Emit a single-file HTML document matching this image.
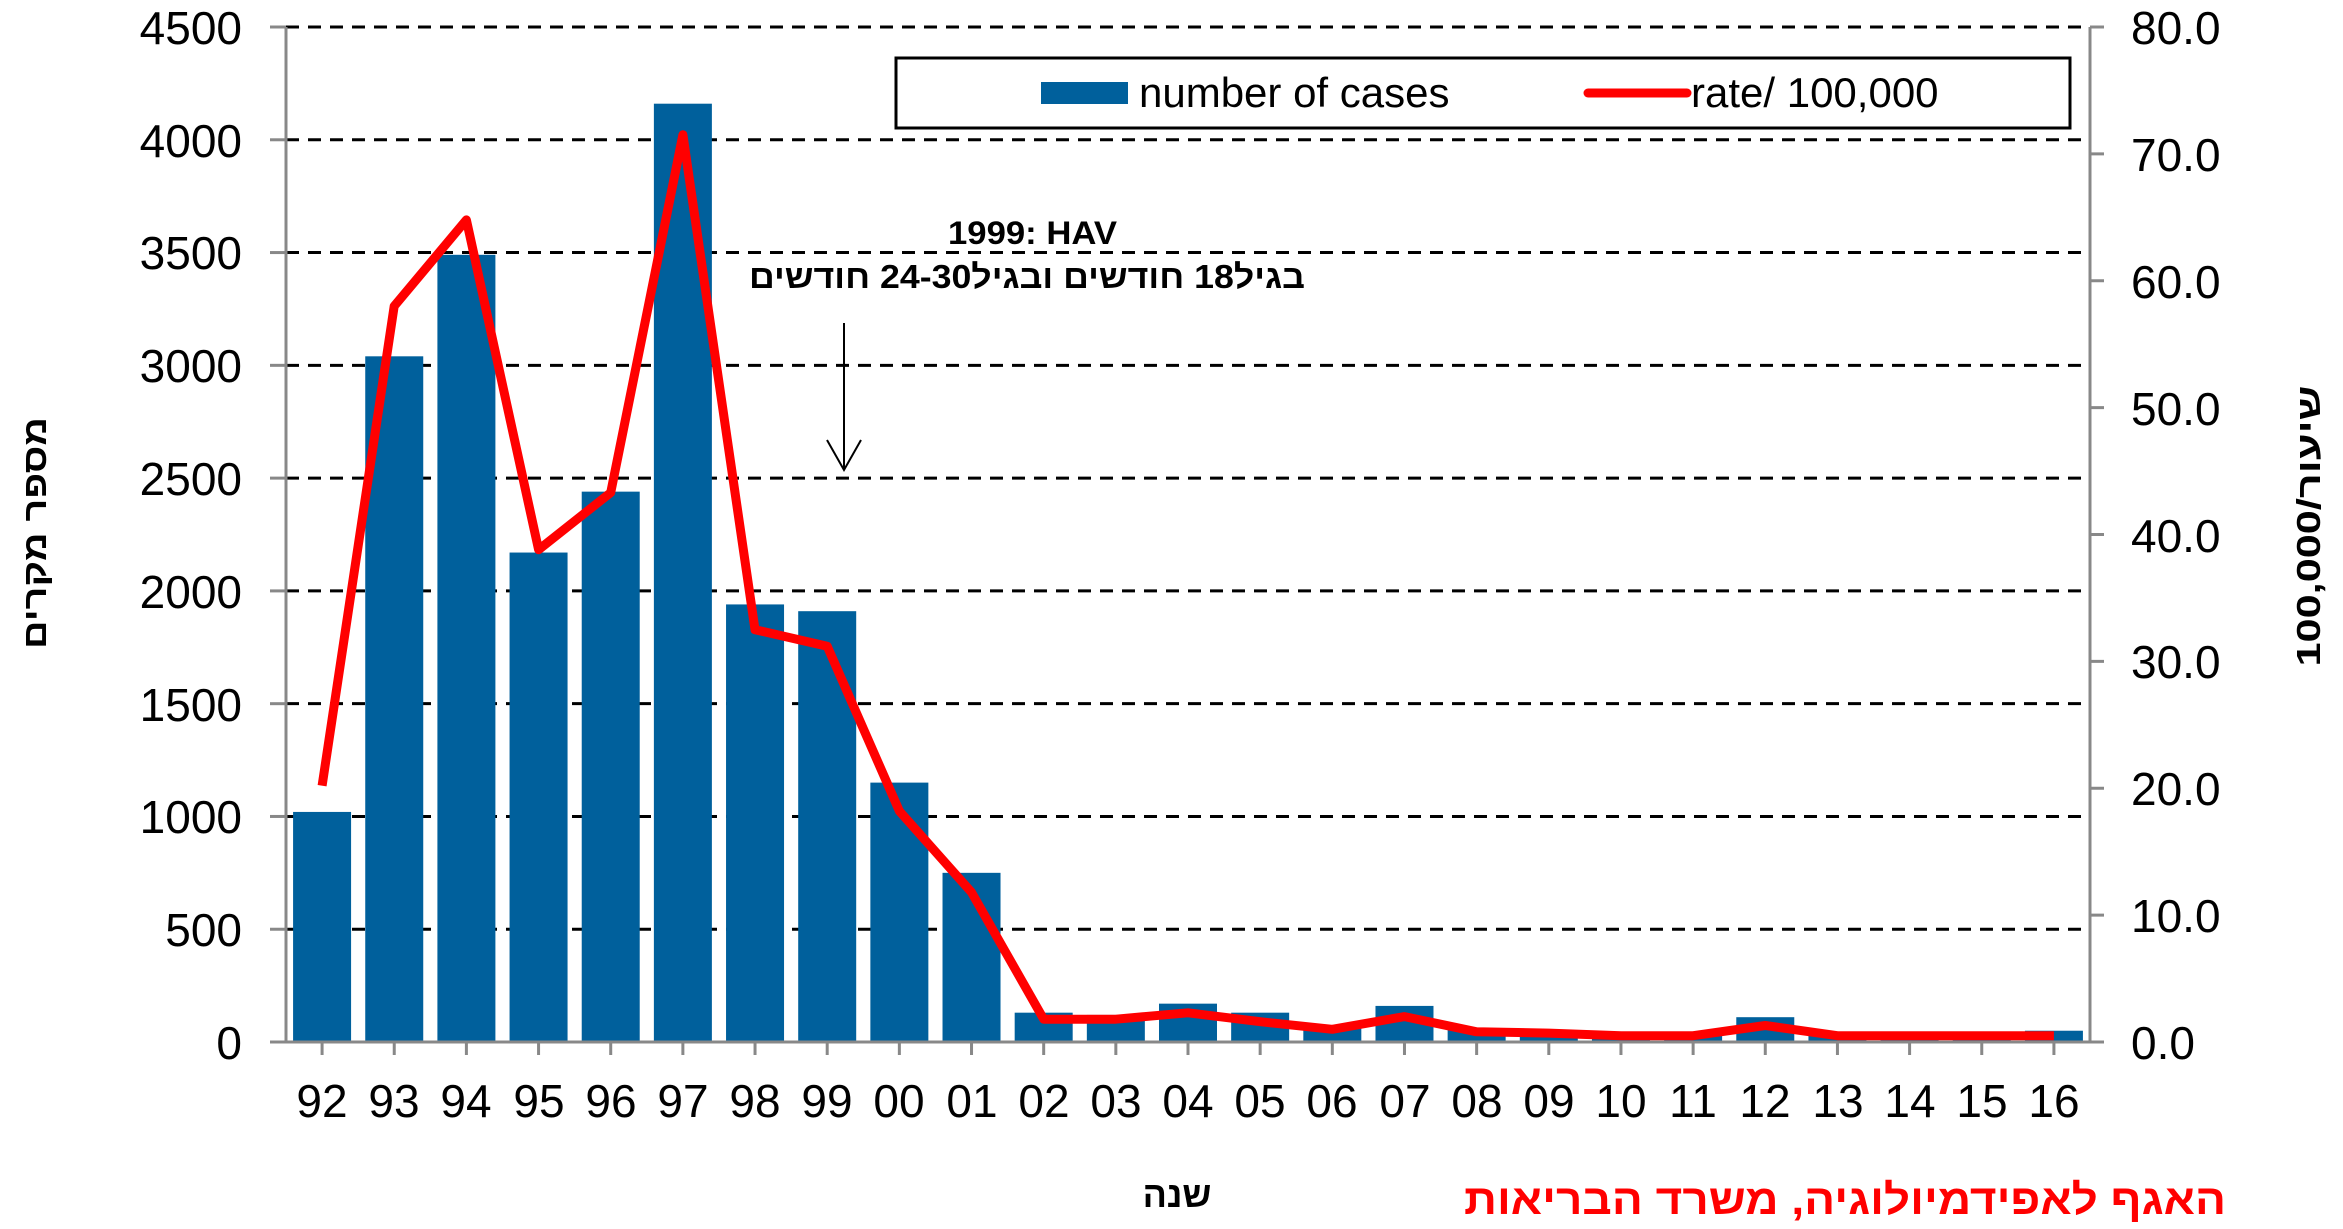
<!DOCTYPE html>
<html><head><meta charset="utf-8"><style>
html,body{margin:0;padding:0;background:#fff;}
svg{display:block;}
text{font-family:"Liberation Sans",Arial,sans-serif;}
.h{font-family:"Liberation Sans","Noto Sans CJK SC",sans-serif;font-weight:bold;}
</style></head><body>
<svg id="s" width="2343" height="1229" viewBox="0 0 2343 1229" xmlns="http://www.w3.org/2000/svg">
<g id="grid" stroke="#000" stroke-width="3" stroke-dasharray="13,9"></g>
<g id="bars" fill="#00609c"></g>
<g stroke="#888" stroke-width="3" fill="none" id="axes">
<line x1="286" y1="27" x2="286" y2="1042"/>
<line x1="2090" y1="27" x2="2090" y2="1042"/>
<line x1="270" y1="1042" x2="2104" y2="1042"/>
</g>
<polyline id="rate" fill="none" stroke="#ff0000" stroke-width="9" stroke-linejoin="round"/>
<g font-size="46" fill="#000" text-anchor="end">
<text x="242" y="44">4500</text><text x="242" y="157">4000</text><text x="242" y="269">3500</text>
<text x="242" y="382">3000</text><text x="242" y="495">2500</text><text x="242" y="608">2000</text>
<text x="242" y="721">1500</text><text x="242" y="833">1000</text><text x="242" y="946">500</text>
<text x="242" y="1059">0</text>
</g>
<g font-size="46" fill="#000" text-anchor="start">
<text x="2131" y="44">80.0</text><text x="2131" y="171">70.0</text><text x="2131" y="298">60.0</text>
<text x="2131" y="425">50.0</text><text x="2131" y="552">40.0</text><text x="2131" y="678">30.0</text>
<text x="2131" y="805">20.0</text><text x="2131" y="932">10.0</text><text x="2131" y="1059">0.0</text>
</g>
<g font-size="46" fill="#000" text-anchor="middle">
<text x="322" y="1117">92</text><text x="394" y="1117">93</text><text x="466" y="1117">94</text>
<text x="539" y="1117">95</text><text x="611" y="1117">96</text><text x="683" y="1117">97</text>
<text x="755" y="1117">98</text><text x="827" y="1117">99</text><text x="899" y="1117">00</text>
<text x="972" y="1117">01</text><text x="1044" y="1117">02</text><text x="1116" y="1117">03</text>
<text x="1188" y="1117">04</text><text x="1260" y="1117">05</text><text x="1332" y="1117">06</text>
<text x="1405" y="1117">07</text><text x="1477" y="1117">08</text><text x="1549" y="1117">09</text>
<text x="1621" y="1117">10</text><text x="1693" y="1117">11</text><text x="1765" y="1117">12</text>
<text x="1838" y="1117">13</text><text x="1910" y="1117">14</text><text x="1982" y="1117">15</text>
<text x="2054" y="1117">16</text>
</g>
<rect x="896" y="58" width="1174" height="70" fill="#fff" stroke="#000" stroke-width="3"/>
<rect x="1041" y="82" width="87" height="22" fill="#00609c"/>
<text x="1139" y="107" font-size="42">number of cases</text>
<line x1="1588" y1="93" x2="1687" y2="93" stroke="#ff0000" stroke-width="9" stroke-linecap="round"/>
<text x="1691" y="107" font-size="42">rate/ 100,000</text>
<text x="948" y="244" font-size="32" font-weight="bold" textLength="169" lengthAdjust="spacingAndGlyphs">1999: HAV</text>
<text class="h" x="1305" y="288" font-size="33" direction="rtl" text-anchor="start" textLength="556" lengthAdjust="spacingAndGlyphs">בגיל18 חודשים ובגיל24-30 חודשים</text>
<line x1="844" y1="323" x2="844" y2="470" stroke="#000" stroke-width="2"/>
<polyline points="827,440 844,470 861,440" fill="none" stroke="#000" stroke-width="2"/>
<text class="h" transform="translate(46,533) rotate(-90)" font-size="33" text-anchor="middle" textLength="232" lengthAdjust="spacingAndGlyphs">מספר מקרים</text>
<text class="h" transform="translate(2320,526) rotate(-90)" font-size="33" text-anchor="middle" textLength="281" lengthAdjust="spacingAndGlyphs">שיעור/100,000</text>
<text class="h" x="1177" y="1207" font-size="36" text-anchor="middle">שנה</text>
<text class="h" x="2226" y="1214" font-size="42" fill="#ff0000" direction="rtl" text-anchor="start" textLength="762" lengthAdjust="spacingAndGlyphs">האגף לאפידמיולוגיה, משרד הבריאות</text>
</svg>
<script>
(function(){
var ns="http://www.w3.org/2000/svg";
var cases=[1020,3040,3490,2170,2440,4160,1940,1910,1150,750,130,120,170,130,70,160,60,50,30,30,110,30,30,30,50];
var rates=[20.2,58,64.8,38.8,43.3,71.5,32.5,31.2,18.2,11.8,1.8,1.8,2.3,1.6,1.0,2.0,0.8,0.7,0.5,0.5,1.3,0.5,0.5,0.5,0.5];
var g=document.getElementById('grid'),b=document.getElementById('bars'),ax=document.getElementById('axes');
for(var k=0;k<9;k++){var y=27+k*112.78;var l=document.createElementNS(ns,'line');
l.setAttribute('x1',286);l.setAttribute('x2',2090);l.setAttribute('y1',y);l.setAttribute('y2',y);g.appendChild(l);
var t=document.createElementNS(ns,'line');t.setAttribute('x1',270);t.setAttribute('x2',286);t.setAttribute('y1',y);t.setAttribute('y2',y);ax.appendChild(t);}
for(var k=0;k<9;k++){var y=1042-k*126.875;var t=document.createElementNS(ns,'line');
t.setAttribute('x1',2090);t.setAttribute('x2',2104);t.setAttribute('y1',y);t.setAttribute('y2',y);ax.appendChild(t);}
var pts=[];
for(var i=0;i<25;i++){var cx=286+72.16*(i+0.5);var h=cases[i]*1015/4500;
var r=document.createElementNS(ns,'rect');r.setAttribute('x',cx-29);r.setAttribute('width',58);r.setAttribute('y',1042-h);r.setAttribute('height',h);b.appendChild(r);
var t=document.createElementNS(ns,'line');t.setAttribute('x1',cx);t.setAttribute('x2',cx);t.setAttribute('y1',1042);t.setAttribute('y2',1055);ax.appendChild(t);
pts.push(cx.toFixed(1)+','+(1042-rates[i]*12.6875).toFixed(1));}
document.getElementById('rate').setAttribute('points',pts.join(' '));
})();
</script>
</body></html>
